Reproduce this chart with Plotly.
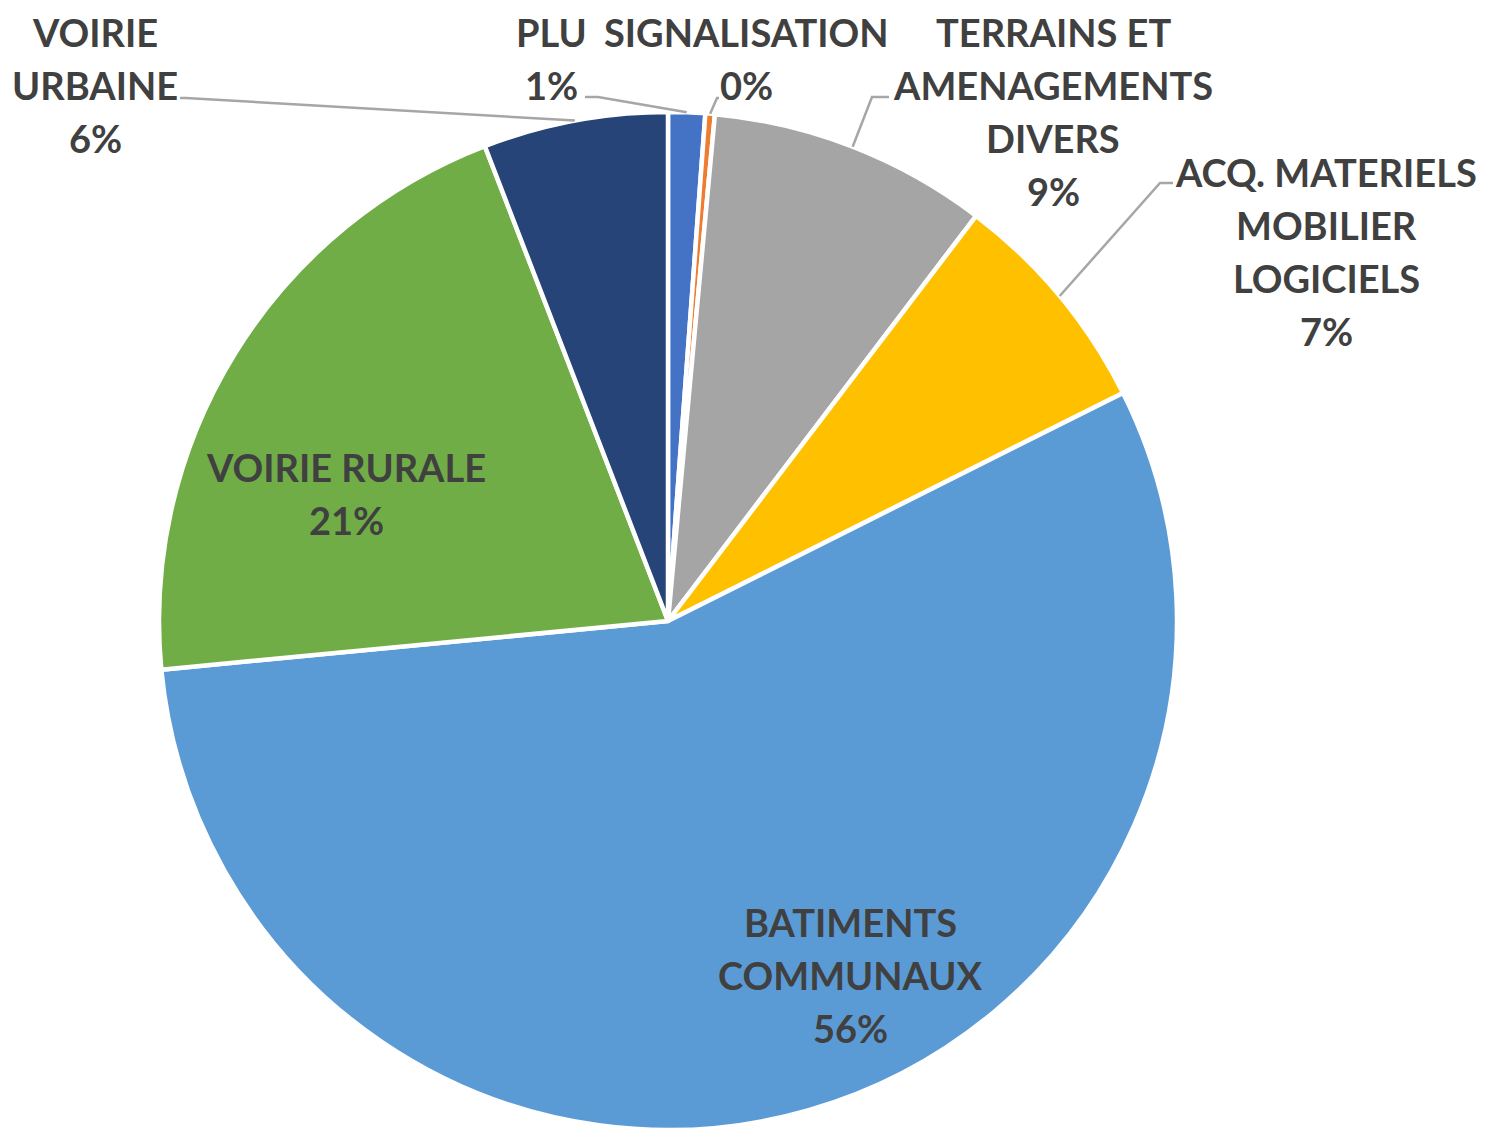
import math
import plotly.graph_objects as go

# ---- data ----
categories = ["PLU", "SIGNALISATION", "TERRAINS ET AMENAGEMENTS DIVERS",
              "ACQ. MATERIELS MOBILIER LOGICIELS", "BATIMENTS COMMUNAUX",
              "VOIRIE RURALE", "VOIRIE URBAINE"]
values = [1.17, 0.30, 8.88, 7.26, 55.88, 20.67, 5.86]
label_lines = [["PLU"], ["SIGNALISATION"], ["TERRAINS ET", "AMENAGEMENTS", "DIVERS"],
               ["ACQ. MATERIELS", "MOBILIER", "LOGICIELS"], ["BATIMENTS", "COMMUNAUX"],
               ["VOIRIE RURALE"], ["VOIRIE", "URBAINE"]]
colors = ["#4472C4", "#ED7D31", "#A5A5A5", "#FFC000", "#5B9BD5", "#70AD47", "#264478"]

# ---- layout constants (pixels) ----
W, H = 1486, 1130
CX, CY, R = 668, 621, 509
LINE_STEP = 53
TEXT_COLOR = "#404040"
FONT = dict(family="Lato, Carlito, Calibri, sans-serif", size=38, color=TEXT_COLOR, weight=700)

# first-line centre of each label block
label_pos = [(551, 32), (746, 32), (1053, 32), (1326, 172), (850, 922), (346, 467), (95, 32)]
# leader line: points from the label side towards the pie (None = inside label)
leader_pts = [
    [(585, 97), (598, 97)],
    [(719, 98), (717, 98)],
    [(889, 97), (872, 97)],
    [(1173, 183), (1160, 183)],
    None,
    None,
    [(180, 98), (186, 98)],
]


def px(x):
    return x / W


def py(y):
    return 1 - y / H


fig = go.Figure()
fig.add_trace(go.Pie(
    labels=categories, values=values, sort=False, direction="clockwise", rotation=0,
    marker=dict(colors=colors, line=dict(color="white", width=4.5)),
    textinfo="none", hoverinfo="skip", showlegend=False,
    domain=dict(x=[px(CX - R), px(CX + R)], y=[0, (2 * R) / H]),
))

total = sum(values)
annotations = []
shapes = []
cum = 0.0
for i, v in enumerate(values):
    mid = (cum + v / 2) / total * 2 * math.pi
    cum += v
    pct = f"{round(v / total * 100):d}%"
    lines = label_lines[i] + [pct]
    lx, ly = label_pos[i]
    for k, t in enumerate(lines):
        annotations.append(dict(
            text=t, x=px(lx), y=py(ly + k * LINE_STEP), xref="paper", yref="paper",
            xanchor="center", yanchor="middle", showarrow=False, font=FONT))
    if leader_pts[i] is not None:
        ex = CX + R * math.sin(mid)
        ey = CY - R * math.cos(mid)
        pts = leader_pts[i] + [(ex, ey)]
        path = "M " + " L ".join(f"{px(a):.5f},{py(b):.5f}" for a, b in pts)
        shapes.append(dict(type="path", path=path, xref="paper", yref="paper",
                           line=dict(color="#A6A6A6", width=2.5)))

fig.update_layout(
    width=W, height=H, margin=dict(l=0, r=0, t=0, b=0),
    paper_bgcolor="white", plot_bgcolor="white",
    annotations=annotations, shapes=shapes,
)

fig.write_html(
    "out.html",
    config={"displayModeBar": False},
    post_script="document.body.style.margin='0';document.body.style.overflow='hidden';",
)
